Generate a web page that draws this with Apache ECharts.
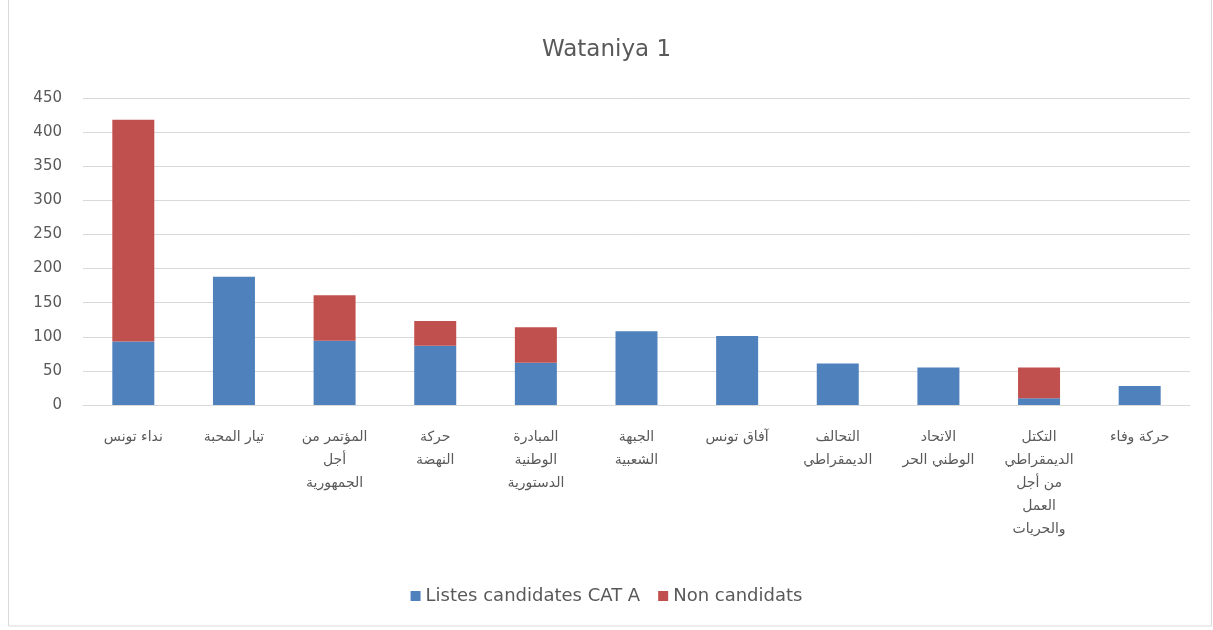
<!DOCTYPE html>
<html>
<head>
<meta charset="utf-8">
<script src="https://cdn.jsdelivr.net/npm/echarts@6/dist/echarts.min.js"></script>
<style>
html,body{margin:0;padding:0;background:#fff;}
#c{width:1213px;height:630px;}
</style>
</head>
<body>
<div id="c"></div>
<script>
const title = 'Wataniya 1';
const categories = [
  'نداء تونس',
  'تيار المحبة',
  'المؤتمر من\nأجل\nالجمهورية',
  'حركة\nالنهضة',
  'المبادرة\nالوطنية\nالدستورية',
  'الجبهة\nالشعبية',
  'آفاق تونس',
  'التحالف\nالديمقراطي',
  'الاتحاد\nالوطني الحر',
  'التكتل\nالديمقراطي\nمن أجل\nالعمل\nوالحريات',
  'حركة وفاء'
];
const seriesNames = ['Listes candidates CAT A', 'Non candidats'];
const listesCandidates = [93, 188, 94, 87, 62, 108, 101, 61, 55, 10, 28];
const nonCandidats = [325, 0, 67, 36, 52, 0, 0, 0, 0, 45, 0];
const yTicks = {min: 0, max: 450, interval: 50};

const chart = echarts.init(document.getElementById('c'), null, {renderer: 'canvas'});
const txt = '#595959';
chart.setOption({
  animation: false,
  backgroundColor: '#fff',
  title: {
    text: title, left: 'center', top: 34,
    textStyle: {color: txt, fontSize: 23, fontWeight: 'normal', fontFamily: 'DejaVu Sans'}
  },
  legend: {
    bottom: 20, left: 'center',
    itemWidth: 10, itemHeight: 10, itemGap: 18, icon: 'rect',
    textStyle: {color: txt, fontSize: 18, fontFamily: 'DejaVu Sans'},
    data: seriesNames
  },
  grid: {left: 83, right: 23, top: 98, bottom: 225, containLabel: false},
  xAxis: {
    type: 'category', data: categories,
    axisLine: {lineStyle: {color: '#d9d9d9'}},
    axisTick: {show: false},
    axisLabel: {color: txt, fontSize: 14, lineHeight: 23, interval: 0, margin: 21, fontFamily: 'DejaVu Sans'}
  },
  yAxis: {
    type: 'value', min: yTicks.min, max: yTicks.max, interval: yTicks.interval,
    axisLine: {show: false}, axisTick: {show: false},
    splitLine: {lineStyle: {color: '#d9d9d9'}},
    axisLabel: {color: txt, fontSize: 15, margin: 21, fontFamily: 'DejaVu Sans'}
  },
  series: [
    {name: seriesNames[0], type: 'bar', stack: 's', data: listesCandidates, barWidth: 42, itemStyle: {color: '#4F81BD'}},
    {name: seriesNames[1], type: 'bar', stack: 's', data: nonCandidats, barWidth: 42, itemStyle: {color: '#C0504D'}}
  ],
  graphic: [{
    type: 'rect', shape: {x: 8.5, y: -2, width: 1203, height: 628},
    style: {fill: null, stroke: '#d9d9d9', lineWidth: 1}, silent: true
  }]
});
</script>
</body>
</html>
